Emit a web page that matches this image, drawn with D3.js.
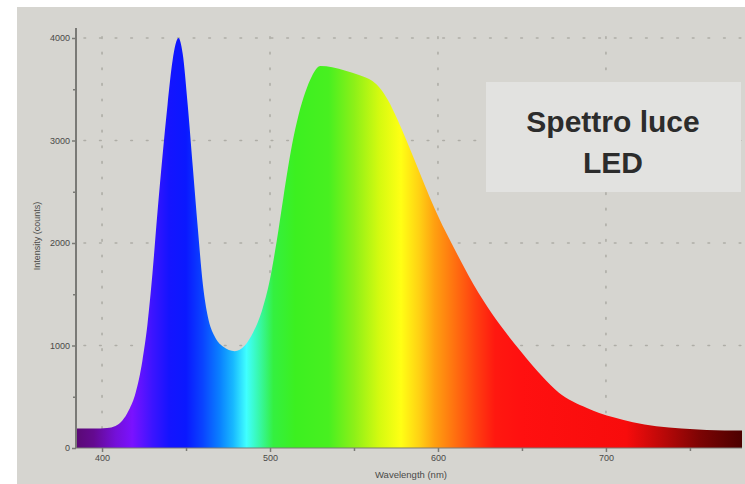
<!DOCTYPE html>
<html>
<head>
<meta charset="utf-8">
<script src="https://cdn.jsdelivr.net/npm/d3@7"></script>
<style>
  html, body { margin: 0; padding: 0; background: #ffffff; }
  svg { display: block; }
  text { font-family: "Liberation Sans", Arial, sans-serif; }
</style>
</head>
<body>
<div id="chart"></div>
<script>
// LED emission spectrum: wavelength (nm) and detector intensity (counts)
const wavelengths = [384.5, 395, 403, 408, 412, 416, 420, 424, 427, 430, 433, 436, 439, 442, 445.5, 448, 451, 454, 457, 460, 463, 467, 472, 479, 485, 490, 495, 500, 504, 508, 513, 517, 521, 525, 530, 537, 545, 553, 561, 566, 570, 576, 581, 589, 595, 601, 608, 615, 621, 627, 637, 649, 656, 662, 672, 680, 689, 696, 705, 716, 730, 745, 760, 781];
const intensities = [190, 190, 195, 215, 265, 370, 540, 850, 1200, 1700, 2300, 2850, 3350, 3780, 4000, 3850, 3350, 2750, 2150, 1600, 1280, 1090, 990, 945, 1000, 1130, 1330, 1650, 2020, 2450, 2950, 3250, 3470, 3630, 3727, 3715, 3680, 3640, 3580, 3500, 3400, 3200, 3010, 2690, 2450, 2230, 2000, 1780, 1600, 1440, 1200, 950, 810, 700, 540, 455, 388, 342, 297, 252, 212, 190, 176, 170];

const xTicks = [400, 500, 600, 700];
const xMinorTicks = [450, 550, 650, 750];
const yTicks = [0, 1000, 2000, 3000, 4000];
const yMinorTicks = [500, 1500, 2500, 3500];

const xTitle = "Wavelength (nm)";
const yTitle = "Intensity (counts)";
const boxLines = ["Spettro luce", "LED"];

// colour of light across the visible range, used to paint the area
const spectrumStops = [
  [384.5, "#5a0a74"], [395, "#640a90"], [408, "#7410d8"], [418, "#7a12ff"],
  [430, "#3c14ff"], [440, "#1414ff"], [450, "#0a18ff"], [460, "#0a44ff"],
  [470, "#0a80ff"], [478, "#18b8ff"], [486, "#40ffff"], [493, "#38f8b0"],
  [502, "#34f040"], [515, "#3cf020"], [535, "#48f020"], [550, "#8cf018"],
  [565, "#d4fa10"], [578, "#ffff14"], [589, "#ffd014"], [598, "#ffa010"],
  [610, "#ff7010"], [622, "#ff4010"], [634, "#ff1810"], [650, "#ff1010"],
  [712, "#f80c0c"], [735, "#b80808"], [756, "#7c0404"], [781, "#4c0000"]
];

const W = 745, H = 484;
const svg = d3.select("#chart").append("svg")
  .attr("width", W).attr("height", H);

// instrument panel background
svg.append("rect").attr("x", 17).attr("y", 7)
  .attr("width", W - 17).attr("height", H - 7)
  .attr("fill", "#d6d5d0");

const plot = { left: 76, right: 742, top: 28, bottom: 448 };

const x = d3.scaleLinear().domain([384.5, 781]).range([plot.left, plot.right]);
const y = d3.scaleLinear().domain([0, 4000]).range([plot.bottom, 38]);

// dotted grid
const grid = svg.append("g")
  .attr("stroke", "#aeada6").attr("stroke-width", 1.6)
  .attr("stroke-dasharray", "1.6,14").attr("stroke-linecap", "round");
grid.selectAll("line.h").data(yTicks.filter(d => d > 0)).join("line")
  .attr("x1", plot.left + 8).attr("x2", plot.right)
  .attr("y1", d => y(d)).attr("y2", d => y(d));
grid.selectAll("line.v").data(xTicks).join("line")
  .attr("x1", d => x(d)).attr("x2", d => x(d))
  .attr("y1", plot.bottom - 4).attr("y2", plot.top);

// spectrum gradient along the wavelength axis
const defs = svg.append("defs");
const grad = defs.append("linearGradient").attr("id", "spectrum")
  .attr("gradientUnits", "userSpaceOnUse")
  .attr("x1", x(384.5)).attr("x2", x(781)).attr("y1", 0).attr("y2", 0);
grad.selectAll("stop").data(spectrumStops).join("stop")
  .attr("offset", d => (d[0] - 384.5) / (781 - 384.5))
  .attr("stop-color", d => d[1]);

const data = wavelengths.map((w, i) => ({ w, v: intensities[i] }));
const area = d3.area()
  .x(d => x(d.w)).y0(y(0)).y1(d => y(d.v))
  .curve(d3.curveMonotoneX);
svg.append("path").datum(data)
  .attr("d", area).attr("fill", "url(#spectrum)");

// axes
const axisColor = "#7a7a76";
const yAxis = svg.append("g").attr("transform", `translate(${plot.left},0)`)
  .call(d3.axisLeft(y).tickValues(yTicks).tickSize(4).tickPadding(2).tickFormat(d3.format("d")));
const yMinor = svg.append("g").attr("transform", `translate(${plot.left},0)`)
  .call(d3.axisLeft(y).tickValues(yMinorTicks).tickSize(3).tickFormat(""));
const xAxis = svg.append("g").attr("transform", `translate(0,${plot.bottom})`)
  .call(d3.axisBottom(x).tickValues(xTicks).tickSize(4).tickPadding(3));
const xMinor = svg.append("g").attr("transform", `translate(0,${plot.bottom})`)
  .call(d3.axisBottom(x).tickValues(xMinorTicks).tickSize(3).tickFormat(""));

[yAxis, yMinor, xAxis, xMinor].forEach(g => {
  g.selectAll(".domain").remove();
  g.selectAll("line").attr("stroke", axisColor).attr("stroke-width", 1.5);
  g.selectAll("text").attr("fill", "#4a4a48").attr("font-size", 9)
    .attr("font-family", "'Liberation Sans', Arial, sans-serif");
});
svg.append("line")
  .attr("x1", plot.left).attr("x2", plot.left)
  .attr("y1", plot.top).attr("y2", plot.bottom)
  .attr("stroke", axisColor).attr("stroke-width", 2);
svg.append("line")
  .attr("x1", plot.left).attr("x2", plot.right)
  .attr("y1", plot.bottom).attr("y2", plot.bottom)
  .attr("stroke", axisColor).attr("stroke-width", 1);

// axis titles
svg.append("text").attr("x", 411).attr("y", 478)
  .attr("text-anchor", "middle").attr("font-size", 9.5).attr("fill", "#4a4a48")
  .text(xTitle);
svg.append("text")
  .attr("transform", "translate(40,236) rotate(-90)")
  .attr("text-anchor", "middle").attr("font-size", 9).attr("fill", "#4a4a48")
  .text(yTitle);

// caption box
svg.append("rect").attr("x", 486).attr("y", 82)
  .attr("width", 255).attr("height", 110).attr("fill", "#e2e2e0");
svg.selectAll("text.caption").data(boxLines).join("text")
  .attr("class", "caption")
  .attr("x", 613).attr("y", (d, i) => 132 + i * 41)
  .attr("text-anchor", "middle")
  .attr("font-family", "Lato, 'Open Sans', sans-serif")
  .attr("font-weight", 700).attr("font-size", 30).attr("fill", "#2c2c2c")
  .text(d => d);
</script>
</body>
</html>
